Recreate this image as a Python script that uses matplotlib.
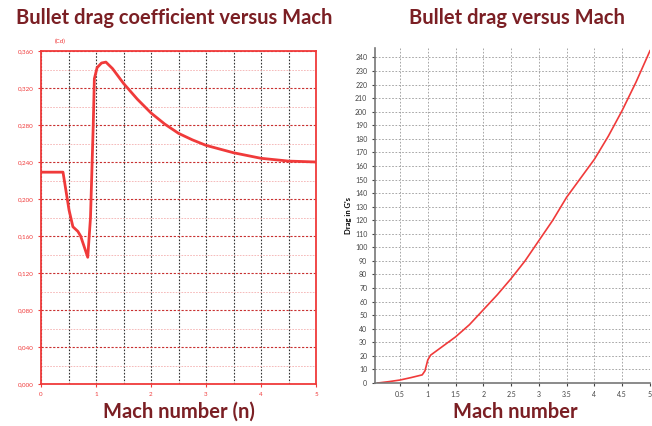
import matplotlib
matplotlib.use("Agg")
import matplotlib.pyplot as plt
import numpy as np

# Cd vs Mach (left)
cd_mach = [0.0, 0.40, 0.51, 0.58, 0.67, 0.72, 0.85, 0.90, 0.95, 0.97, 1.02, 1.10, 1.18,
           1.30, 1.50, 1.75, 2.00, 2.25, 2.50, 2.75, 3.00, 3.50, 4.00, 4.50, 5.00]
cd_vals = [0.229, 0.229, 0.188, 0.170, 0.165, 0.160, 0.137, 0.180, 0.280, 0.330, 0.342, 0.347,
           0.348, 0.341, 0.325, 0.308, 0.293, 0.281, 0.271, 0.264, 0.258, 0.250, 0.244, 0.241, 0.240]
cd_yticks = [0.000, 0.040, 0.080, 0.120, 0.160, 0.200, 0.240, 0.280, 0.320, 0.360]

# Drag in G's vs Mach (right)
drag_mach = [0.10, 0.30, 0.50, 0.70, 0.90, 0.95, 1.00, 1.05, 1.20, 1.50, 1.75, 2.00, 2.25,
             2.50, 2.75, 3.00, 3.25, 3.50, 3.75, 4.00, 4.25, 4.50, 4.75, 5.00]
drag_vals = [0.0, 1.0, 2.2, 4.0, 6.0, 9.0, 17.0, 20.5, 25.0, 34.0, 43.0, 54.0, 65.0,
             77.0, 90.0, 105.0, 120.0, 137.0, 151.0, 165.0, 182.0, 201.0, 222.0, 245.0]
drag_xticks = [0.5, 1, 1.5, 2, 2.5, 3, 3.5, 4, 4.5, 5]
drag_xlabels = ["0.5", "1", "1.5", "2", "2.5", "3", "3.5", "4", "4.5", "5"]

title_col = "#7b1f24"
red = "#f03a3a"

plt.rcParams["font.family"] = ["Lato", "DejaVu Sans"]

fig = plt.figure(figsize=(6.52, 4.26), dpi=100)
W, H = 652, 426

# ---- left chart
ax1 = fig.add_axes([41 / W, 1 - 384 / H, 275 / W, 333 / H])
ax1.plot(cd_mach, cd_vals, color=red, lw=2.0)
ax1.set_xlim(0, 5)
ax1.set_ylim(0, 0.36)
ax1.set_xticks(range(6))
ax1.set_yticks(cd_yticks)
ax1.set_yticklabels([f"{v:.3f}".replace(".", ",") for v in cd_yticks])
ax1.set_xticks(np.arange(0.5, 5, 0.5), minor=True)
ax1.set_yticks(np.arange(0.02, 0.36, 0.04), minor=True)
ax1.tick_params(labelsize=4.5, colors=red, length=2, width=0.8)
ax1.tick_params(which="minor", length=0)
for s in ax1.spines.values():
    s.set_color(red)
    s.set_linewidth(1.3)
ax1.grid(True, axis="y", which="major", color="#c83030", ls=(0, (2, 1.5)), lw=0.8)
ax1.grid(True, axis="y", which="minor", color="#f4b0b0", ls=(0, (2, 1.5)), lw=0.6)
ax1.grid(True, axis="x", which="both", color="#333333", ls=(0, (1.5, 1.5)), lw=0.8)
ax1.text(0.07, 0.368, "(Cd)", color=red, fontsize=4.5, transform=ax1.get_yaxis_transform(),
         ha="center")
ax1.set_axisbelow(True)

# ---- right chart
ax2 = fig.add_axes([375 / W, 1 - 383 / H, 275 / W, 335 / H])
ax2.plot(drag_mach, drag_vals, color=red, lw=1.2)
ax2.set_xlim(0.05, 5.0)
ax2.set_ylim(0, 247)
ax2.set_xticks(drag_xticks)
ax2.set_xticklabels(drag_xlabels)
ax2.set_yticks(np.arange(0, 241, 10))
ax2.tick_params(labelsize=5, colors="#444444", length=2)
ax2.grid(True, color="#999999", ls=(0, (2, 2)), lw=0.6)
ax2.set_axisbelow(True)
ax2.spines["top"].set_visible(False)
ax2.spines["right"].set_visible(False)
ax2.spines["left"].set_color("#777777")
ax2.spines["bottom"].set_color("#777777")
ax2.spines["left"].set_linewidth(1.2)
ax2.spines["bottom"].set_linewidth(1.2)
ax2.set_ylabel("Drag in G's", fontsize=5.5, fontweight="bold", labelpad=2)

# titles and axis names
fig.text(174 / W, 1 - 18 / H, "Bullet drag coefficient versus Mach", ha="center", va="center",
         fontsize=14.5, fontweight="bold", color=title_col)
fig.text(517 / W, 1 - 18 / H, "Bullet drag versus Mach", ha="center", va="center",
         fontsize=14.5, fontweight="bold", color=title_col)
fig.text(179 / W, 1 - 412 / H, "Mach number (n)", ha="center", va="center",
         fontsize=14.5, fontweight="bold", color=title_col)
fig.text(515 / W, 1 - 412 / H, "Mach number", ha="center", va="center",
         fontsize=14.5, fontweight="bold", color=title_col)

fig.savefig("out.png", dpi=100)
